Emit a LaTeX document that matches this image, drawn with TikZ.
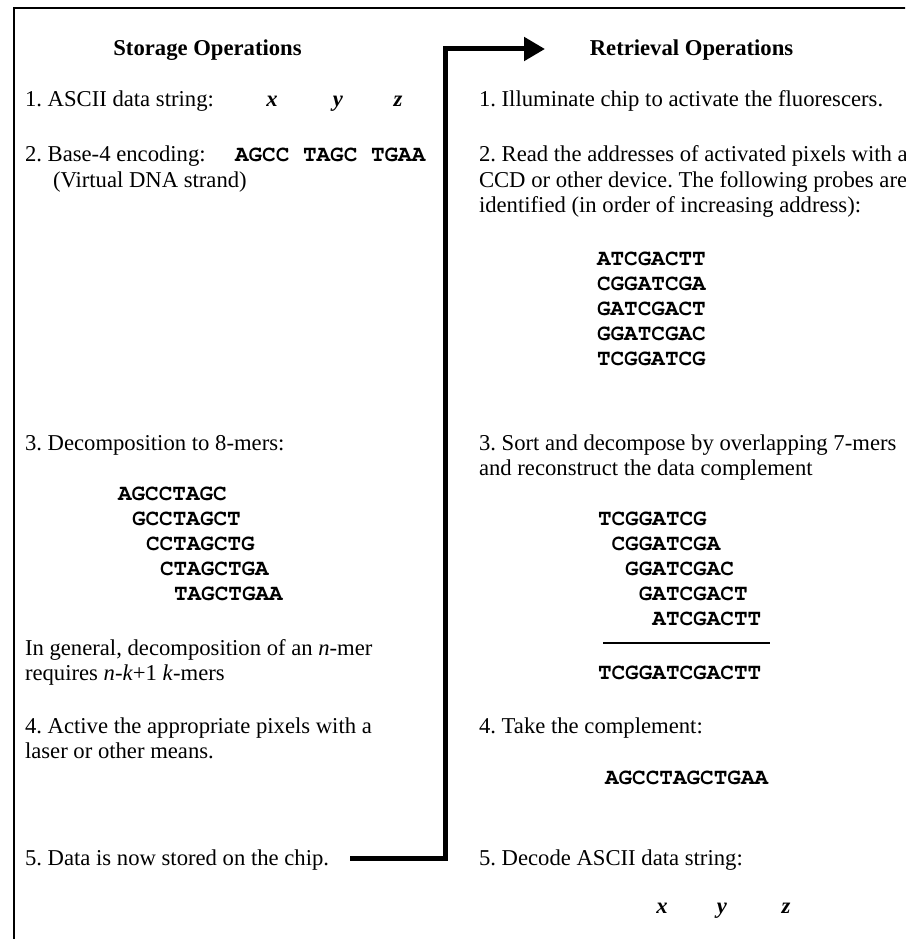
\documentclass[tikz,border=0pt]{standalone}
\usepackage{fontspec}
\setmainfont{Liberation Serif}
\setmonofont{TeX Gyre Cursor}
\usetikzlibrary{arrows.meta}
\frenchspacing
\newcommand{\bodysz}{\fontsize{22.67pt}{25pt}\selectfont\frenchspacing}
\tikzset{
  txt/.style={anchor=base west, inner sep=0pt, outer sep=0pt, font=\bodysz},
  mono/.style={anchor=base west, inner sep=0pt, outer sep=0pt, font=\bodysz\ttfamily\bfseries},
  head/.style={anchor=base, inner sep=0pt, outer sep=0pt, font=\bodysz\bfseries},
  var/.style={anchor=base, inner sep=0pt, outer sep=0pt, font=\bodysz\bfseries\itshape},
  frame/.style={line width=1.3pt},
  flow/.style={line width=5pt, line join=miter, -{Triangle[length=21pt,width=23pt]}},
  rulel/.style={line width=1.3pt}
}
\begin{document}
\begin{tikzpicture}[x=1pt,y=-1pt]
\useasboundingbox (0,0) rectangle (905,939);
\clip (0,0) rectangle (905,939);
\fill[white] (0,0) rectangle (905,939);
% frame
\coordinate (f1) at (14,945);
\coordinate (f2) at (14,8);
\coordinate (f3) at (910,8);
\draw[frame] (f1) -- (f2) -- (f3);
% headings
\node[head] (hs) at (207.5,56) {Storage Operations};
\node[head] (hr) at (691.5,56) {Retrieval Operations};
% left column
\node[txt] (s1) at (25,107) {1. ASCII data string:};
\node[var] (s1x) at (272,107) {x};
\node[var] (s1y) at (338,107) {y};
\node[var] (s1z) at (398,107) {z};
\node[txt] (s2) at (25,161) {2. Base-4 encoding:};
\node[mono] (s2m) at (235,161) {AGCC TAGC TGAA};
\node[txt] (s2b) at (53,187) {(Virtual DNA strand)};
\node[txt] (s3) at (25,450) {3. Decomposition to 8-mers:};
\node[mono] (l1) at (118,500) {AGCCTAGC};
\node[mono] (l2) at (132,525) {GCCTAGCT};
\node[mono] (l3) at (146,550) {CCTAGCTG};
\node[mono] (l4) at (160,575) {CTAGCTGA};
\node[mono] (l5) at (174,600) {TAGCTGAA};
\node[txt] (g1) at (25,655) {In general, decomposition of an \textit{n}-mer};
\node[txt] (g2) at (25,680) {requires \textit{n}-\textit{k}+1 \textit{k}-mers};
\node[txt] (s4) at (25,733) {4. Active the appropriate pixels with a};
\node[txt] (s4b) at (25,758) {laser or other means.};
\node[txt] (s5) at (25,865) {5. Data is now stored on the chip.};
% right column
\node[txt] (r1) at (479,107) {1. Illuminate chip to activate the fluorescers.};
\node[txt] (r2) at (479,161) {2. Read the addresses of activated pixels with a};
\node[txt] (r2b) at (479,187) {CCD or other device. The following probes are};
\node[txt] (r2c) at (479,212) {identified (in order of increasing address):};
\node[mono] (p1) at (597,265) {ATCGACTT};
\node[mono] (p2) at (597,290) {CGGATCGA};
\node[mono] (p3) at (597,315) {GATCGACT};
\node[mono] (p4) at (597,340) {GGATCGAC};
\node[mono] (p5) at (597,365) {TCGGATCG};
\node[txt] (r3) at (479,450) {3. Sort and decompose by overlapping 7-mers};
\node[txt] (r3b) at (479,475) {and reconstruct the data complement};
\node[mono] (q1) at (598,525) {TCGGATCG};
\node[mono] (q2) at (611.6,550) {CGGATCGA};
\node[mono] (q3) at (625.2,575) {GGATCGAC};
\node[mono] (q4) at (638.8,600) {GATCGACT};
\node[mono] (q5) at (652.4,625) {ATCGACTT};
\coordinate (ra) at (603,643);
\coordinate (rb) at (770,643);
\draw[rulel] (ra) -- (rb);
\node[mono] (qs) at (598,679) {TCGGATCGACTT};
\node[txt] (r4) at (479,733) {4. Take the complement:};
\node[mono] (r4m) at (605,784) {AGCCTAGCTGAA};
\node[txt] (r5) at (479,865) {5. Decode ASCII data string:};
\node[var] (r5x) at (662,913) {x};
\node[var] (r5y) at (722,913) {y};
\node[var] (r5z) at (786,913) {z};
% flow connector
\coordinate (c0) at (350,858);
\coordinate (c1) at (445,858);
\coordinate (c2) at (445,49);
\coordinate (c3) at (545,49);
\draw[flow] (c0) -- (c1) -- (c2) -- (c3);
\end{tikzpicture}
\end{document}
